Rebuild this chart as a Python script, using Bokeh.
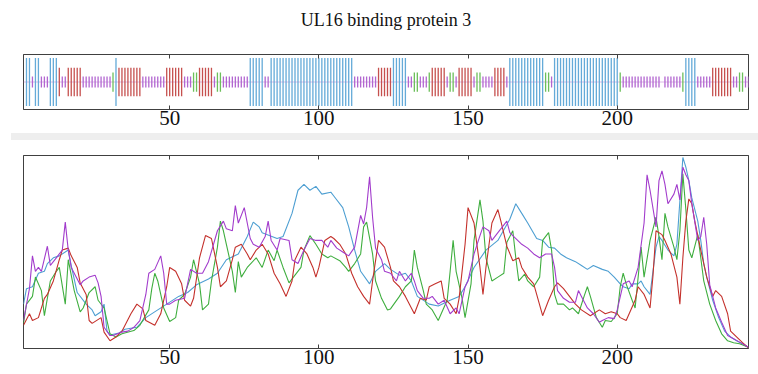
from bokeh.plotting import figure
from bokeh.layouts import column
from bokeh.models import Range1d, FixedTicker, LinearAxis, Div, ColumnDataSource
from bokeh.embed import file_html
from bokeh.resources import INLINE

TITLE = "UL16 binding protein 3"
TICKS = [50, 100, 150, 200]
X_MIN, X_MAX = 1, 244

# secondary-structure segments (residue start, end, class)
ss_start = [2, 4, 5, 7, 10, 13, 14, 16, 21, 31, 32, 33, 41, 49, 55, 58, 60, 65, 66, 68, 77, 82, 84,
            112, 120, 125, 130, 132, 134, 137, 138, 143, 144, 146, 147, 152, 153, 155, 159, 163, 164,
            176, 178, 179, 201, 202, 216, 222, 223, 227, 232, 239, 241, 243]
ss_end = [3, 4, 6, 9, 12, 13, 15, 20, 30, 31, 32, 40, 48, 54, 57, 59, 64, 65, 67, 76, 81, 83, 111,
          119, 124, 129, 131, 133, 136, 137, 142, 143, 145, 146, 151, 152, 154, 158, 162, 163, 175,
          177, 178, 200, 201, 214, 221, 222, 226, 231, 238, 240, 242, 244]
ss_type = ["H", "C", "H", "C", "H", "E", "C", "E", "C", "T", "H", "E", "C", "E", "C", "T", "E", "C", "T",
           "C", "H", "C", "H", "C", "E", "H", "C", "T", "C", "T", "E", "C", "T", "C", "E", "C", "T", "C",
           "E", "C", "H", "T", "C", "H", "T", "C", "C", "T", "H", "C", "E", "C", "T", "C"]

blue_x = [1, 2, 4, 6, 8, 9, 11, 13, 16, 17, 19, 22, 24, 25, 27, 28, 29, 30, 33, 35, 39, 42, 46, 49, 53,
          56, 59, 63, 66, 69, 73, 76, 78, 80, 81, 86, 88, 91, 93, 95, 97, 99, 101, 104, 105, 108, 110,
          112, 114, 117, 119, 122, 124, 127, 129, 131, 133, 137, 140, 144, 147, 149, 152, 156, 160, 164,
          166, 168, 170, 173, 175, 177, 179, 181, 183, 186, 188, 190, 192, 195, 197, 199, 201, 202, 204,
          205, 207, 208, 209, 211, 213, 214, 215, 217, 219, 220, 222, 223, 224, 225, 227, 228, 229, 230,
          232, 234, 236, 238, 240, 242, 244]
blue_y = [0.23, 0.31, 0.32, 0.39, 0.40, 0.44, 0.47, 0.48, 0.51, 0.43, 0.29, 0.23, 0.20, 0.17, 0.19, 0.23,
          0.09, 0.07, 0.08, 0.10, 0.11, 0.16, 0.20, 0.23, 0.27, 0.29, 0.33, 0.36, 0.39, 0.46, 0.49, 0.58,
          0.655, 0.63, 0.60, 0.57, 0.58, 0.70, 0.82, 0.85, 0.82, 0.84, 0.80, 0.81, 0.79, 0.73, 0.63, 0.51,
          0.40, 0.335, 0.40, 0.44, 0.41, 0.38, 0.39, 0.35, 0.27, 0.23, 0.22, 0.25, 0.27, 0.32, 0.42, 0.51,
          0.56, 0.67, 0.75, 0.70, 0.65, 0.57, 0.56, 0.525, 0.52, 0.49, 0.47, 0.45, 0.43, 0.41, 0.43, 0.41,
          0.40, 0.37, 0.335, 0.32, 0.31, 0.335, 0.335, 0.35, 0.32, 0.28, 0.525, 0.58, 0.56, 0.51, 0.48,
          0.54, 0.99, 0.94, 0.87, 0.78, 0.66, 0.56, 0.44, 0.37, 0.25, 0.16, 0.09, 0.06, 0.04, 0.025, 0.005]

purple_x = [1, 3, 4, 5, 6, 7, 9, 10, 11, 12, 14, 15, 16, 17, 20, 21, 23, 25, 26, 27, 28, 30, 31, 34, 36,
            38, 40, 42, 43, 45, 47, 48, 49, 50, 52, 55, 57, 59, 61, 63, 66, 68, 69, 71, 72, 73, 75, 77,
            78, 80, 82, 83, 84, 86, 87, 90, 91, 93, 95, 97, 99, 101, 103, 104, 106, 108, 110, 112, 114,
            115, 116, 117, 118, 119, 121, 122, 124, 126, 127, 129, 131, 132, 133, 135, 137, 138, 140, 142,
            144, 146, 147, 149, 150, 152, 154, 155, 157, 158, 160, 163, 164, 165, 168, 170, 172, 174, 176,
            178, 179, 180, 182, 184, 186, 187, 188, 190, 192, 194, 195, 197, 199, 200, 202, 204, 205, 207,
            209, 210, 211, 213, 214, 215, 216, 217, 219, 220, 221, 222, 223, 224, 225, 227, 228, 229, 230,
            231, 233, 235, 237, 239, 241, 244]
purple_y = [0.145, 0.31, 0.48, 0.40, 0.42, 0.40, 0.53, 0.43, 0.45, 0.47, 0.51, 0.655, 0.51, 0.42, 0.33,
            0.35, 0.37, 0.38, 0.34, 0.27, 0.11, 0.067, 0.067, 0.085, 0.09, 0.11, 0.145, 0.28, 0.39, 0.41,
            0.48, 0.39, 0.23, 0.23, 0.25, 0.26, 0.41, 0.39, 0.39, 0.45, 0.61, 0.66, 0.62, 0.61, 0.74, 0.65,
            0.73, 0.57, 0.54, 0.525, 0.58, 0.66, 0.56, 0.51, 0.57, 0.56, 0.46, 0.44, 0.51, 0.57, 0.56, 0.56,
            0.525, 0.56, 0.52, 0.50, 0.48, 0.525, 0.69, 0.645, 0.73, 0.89, 0.68, 0.52, 0.46, 0.40, 0.39,
            0.35, 0.40, 0.35, 0.39, 0.35, 0.30, 0.26, 0.26, 0.27, 0.23, 0.25, 0.18, 0.21, 0.18, 0.32, 0.35,
            0.49, 0.585, 0.63, 0.61, 0.56, 0.60, 0.66, 0.60, 0.585, 0.54, 0.52, 0.49, 0.47, 0.49, 0.49,
            0.42, 0.30, 0.26, 0.24, 0.24, 0.30, 0.27, 0.21, 0.18, 0.136, 0.145, 0.16, 0.155, 0.20, 0.335,
            0.35, 0.32, 0.42, 0.65, 0.90, 0.82, 0.63, 0.87, 0.92, 0.85, 0.75, 0.80, 0.85, 0.77, 0.94, 0.90,
            0.87, 0.75, 0.56, 0.58, 0.68, 0.54, 0.33, 0.21, 0.136, 0.067, 0.05, 0.033, 0.007]

red_x = [1, 3, 4, 6, 8, 9, 11, 13, 14, 16, 17, 19, 20, 22, 23, 24, 27, 28, 30, 32, 34, 37, 39, 41, 42, 45,
         47, 49, 50, 52, 54, 55, 57, 58, 60, 62, 64, 66, 67, 69, 71, 72, 74, 76, 77, 79, 81, 83, 85, 87,
         89, 91, 92, 94, 96, 98, 99, 100, 102, 104, 105, 107, 109, 111, 113, 115, 117, 118, 120, 122, 124,
         125, 127, 129, 131, 132, 134, 136, 137, 139, 141, 142, 144, 146, 147, 149, 150, 152, 154, 155,
         156, 158, 160, 161, 163, 165, 167, 168, 170, 172, 173, 175, 177, 179, 180, 182, 184, 186, 188,
         191, 192, 194, 196, 198, 200, 201, 203, 204, 206, 207, 209, 211, 212, 213, 215, 216, 218, 220,
         221, 222, 223, 224, 225, 226, 228, 230, 232, 233, 235, 237, 238, 240, 242, 244]
red_y = [0.12, 0.18, 0.145, 0.16, 0.26, 0.28, 0.35, 0.46, 0.51, 0.52, 0.48, 0.42, 0.34, 0.28, 0.145, 0.13,
         0.16, 0.085, 0.04, 0.06, 0.09, 0.18, 0.23, 0.205, 0.145, 0.12, 0.18, 0.32, 0.42, 0.40, 0.335,
         0.25, 0.22, 0.26, 0.47, 0.585, 0.57, 0.42, 0.32, 0.35, 0.46, 0.525, 0.54, 0.49, 0.46, 0.51, 0.54,
         0.49, 0.39, 0.335, 0.27, 0.35, 0.46, 0.525, 0.49, 0.42, 0.37, 0.42, 0.56, 0.58, 0.57, 0.54, 0.49,
         0.39, 0.32, 0.27, 0.23, 0.35, 0.56, 0.525, 0.42, 0.35, 0.32, 0.27, 0.21, 0.18, 0.26, 0.25, 0.32,
         0.335, 0.35, 0.26, 0.23, 0.18, 0.26, 0.54, 0.73, 0.65, 0.42, 0.28, 0.42, 0.65, 0.72, 0.66, 0.53,
         0.455, 0.47, 0.42, 0.37, 0.335, 0.28, 0.17, 0.25, 0.32, 0.34, 0.31, 0.27, 0.23, 0.20, 0.17, 0.18,
         0.20, 0.18, 0.19, 0.18, 0.16, 0.145, 0.18, 0.25, 0.32, 0.28, 0.21, 0.38, 0.61, 0.59, 0.56, 0.49,
         0.37, 0.23, 0.47, 0.66, 0.775, 0.75, 0.66, 0.51, 0.37, 0.27, 0.30, 0.27, 0.18, 0.09, 0.06, 0.03,
         0.003]

green_x = [1, 2, 4, 5, 7, 8, 10, 12, 13, 15, 16, 18, 20, 21, 23, 25, 26, 28, 30, 32, 34, 38, 40, 43, 44,
           45, 46, 48, 50, 52, 53, 55, 57, 58, 60, 61, 63, 64, 66, 67, 68, 69, 71, 72, 73, 74, 76, 79, 81,
           83, 85, 86, 88, 90, 92, 94, 95, 97, 99, 101, 103, 104, 107, 109, 110, 112, 114, 115, 116, 118,
           119, 121, 123, 124, 127, 129, 131, 132, 133, 135, 136, 138, 140, 141, 143, 144, 145, 146, 148,
           149, 151, 152, 154, 155, 156, 158, 160, 162, 163, 165, 166, 167, 169, 170, 172, 174, 175, 177,
           178, 179, 180, 182, 184, 185, 187, 189, 190, 191, 193, 195, 196, 198, 200, 201, 202, 203, 205,
           206, 208, 209, 211, 213, 214, 215, 216, 217, 219, 220, 221, 222, 223, 224, 225, 227, 228, 229,
           231, 233, 235, 237, 239, 241, 244]
green_y = [0.13, 0.23, 0.27, 0.37, 0.30, 0.17, 0.35, 0.40, 0.42, 0.23, 0.46, 0.30, 0.19, 0.21, 0.29, 0.32,
           0.25, 0.21, 0.076, 0.06, 0.076, 0.093, 0.12, 0.20, 0.31, 0.39, 0.35, 0.21, 0.14, 0.16, 0.25,
           0.28, 0.37, 0.46, 0.335, 0.20, 0.23, 0.35, 0.525, 0.66, 0.61, 0.54, 0.40, 0.29, 0.45, 0.37,
           0.42, 0.47, 0.42, 0.51, 0.455, 0.51, 0.42, 0.34, 0.38, 0.42, 0.51, 0.585, 0.54, 0.49, 0.47,
           0.48, 0.455, 0.42, 0.40, 0.44, 0.49, 0.63, 0.655, 0.49, 0.35, 0.26, 0.20, 0.205, 0.27, 0.32,
           0.35, 0.51, 0.42, 0.30, 0.23, 0.20, 0.145, 0.18, 0.25, 0.40, 0.56, 0.40, 0.26, 0.16, 0.335,
           0.56, 0.77, 0.66, 0.47, 0.35, 0.37, 0.39, 0.55, 0.61, 0.47, 0.35, 0.385, 0.35, 0.32, 0.37, 0.56,
           0.60, 0.51, 0.28, 0.23, 0.23, 0.20, 0.21, 0.18, 0.275, 0.32, 0.27, 0.16, 0.11, 0.145, 0.14,
           0.18, 0.32, 0.39, 0.335, 0.25, 0.21, 0.525, 0.37, 0.56, 0.68, 0.58, 0.46, 0.70, 0.63, 0.525,
           0.46, 0.61, 0.905, 0.72, 0.51, 0.47, 0.59, 0.47, 0.35, 0.23, 0.145, 0.076, 0.04, 0.03, 0.025,
           0.007]

SS_HALF = {"H": 0.87, "E": 0.52, "T": 0.35, "C": 0.2}
SS_COLOR = {"H": "#64aad8", "E": "#c6504e", "T": "#6cbf5a", "C": "#b266d0"}
FONT = "Liberation Serif"
EDGE = "#404040"

# expand segments into one mark per residue
xs, y0s, y1s, cols = [], [], [], []
for s, e, t in zip(ss_start, ss_end, ss_type):
    for r in range(s, e + 1):
        xs.append(r)
        y0s.append(-SS_HALF[t])
        y1s.append(SS_HALF[t])
        cols.append(SS_COLOR[t])
ss_src = ColumnDataSource(dict(x=xs, y0=y0s, y1=y1s, color=cols))


def style(p, title=None):
    p.outline_line_color = EDGE
    p.outline_line_width = 1
    p.xgrid.visible = False
    p.ygrid.visible = False
    p.yaxis.visible = False
    ax = p.xaxis[0]
    ax.ticker = FixedTicker(ticks=TICKS)
    ax.major_tick_in = 4
    ax.major_tick_out = 0
    ax.minor_tick_line_color = None
    ax.axis_line_color = EDGE
    ax.major_tick_line_color = EDGE
    ax.major_label_text_font = FONT
    ax.major_label_text_font_size = "21px"
    ax.major_label_text_color = "#111111"
    ax.major_label_standoff = 1
    top = LinearAxis(ticker=FixedTicker(ticks=TICKS), major_tick_in=4, major_tick_out=0,
                     minor_tick_line_color=None, axis_line_color=EDGE, major_tick_line_color=EDGE,
                     major_label_text_font_size="1px", major_label_text_color=None,
                     major_label_standoff=0)
    if title:
        top.axis_label = title
        top.axis_label_text_font = FONT
        top.axis_label_text_font_style = "normal"
        top.axis_label_text_font_size = "18px"
        top.axis_label_text_color = "#111111"
        top.axis_label_standoff = 25
    p.add_layout(top, "above")


p1 = figure(width=758, height=133, output_backend="svg", toolbar_location=None,
            x_range=Range1d(X_MIN, X_MAX), y_range=Range1d(-1, 1),
            min_border_left=23, min_border_right=10, min_border_top=54, min_border_bottom=24)
style(p1, TITLE)
p1.line([X_MIN, X_MAX], [0, 0], line_color="#c58ad8", line_width=1, line_alpha=0.6)
p1.segment(x0="x", y0="y0", x1="x", y1="y1", line_color="color", line_width=1.3, source=ss_src)

band = Div(text="", width=747, height=7, margin=(0, 0, 0, 11),
           styles={"background-color": "#eeeeee"})

p2 = figure(width=758, height=234, output_backend="svg", toolbar_location=None,
            x_range=Range1d(X_MIN, X_MAX), y_range=Range1d(0, 1),
            min_border_left=23, min_border_right=10, min_border_top=15, min_border_bottom=26)
style(p2)
p2.line(blue_x, blue_y, line_color="#4e9fd2", line_width=1.1)
p2.line(green_x, green_y, line_color="#3fae3f", line_width=1.1)
p2.line(red_x, red_y, line_color="#c4312c", line_width=1.1)
p2.line(purple_x, purple_y, line_color="#a23ccc", line_width=1.1)

layout = column(p1, band, p2, spacing=0)
open("out.html", "w").write(file_html(layout, INLINE))
